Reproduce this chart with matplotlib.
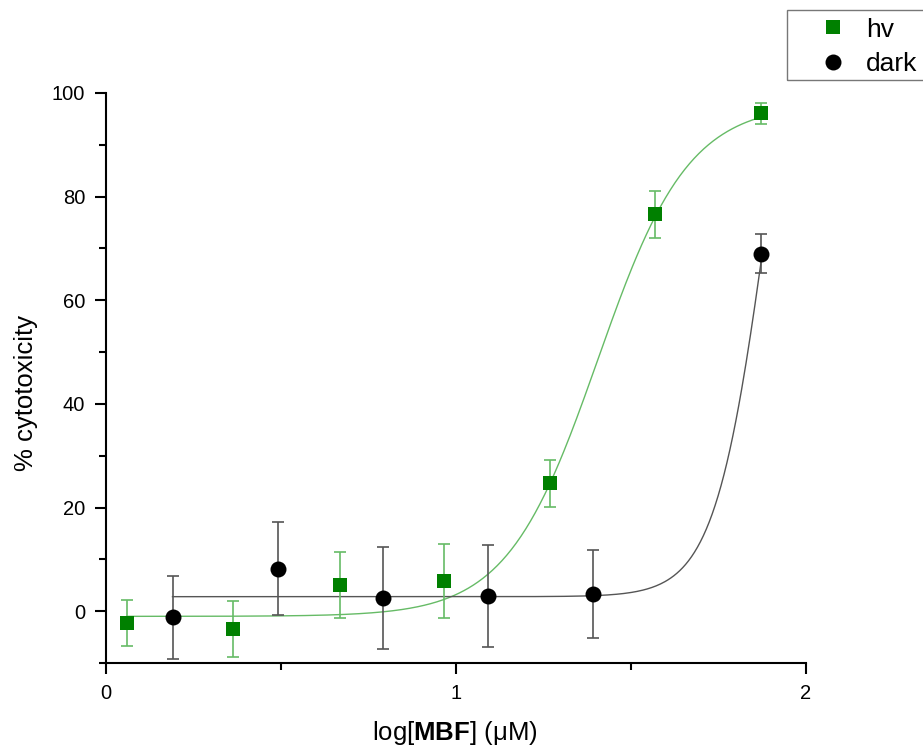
import numpy as np
import matplotlib
matplotlib.use("Agg")
import matplotlib.pyplot as plt
from matplotlib.ticker import MultipleLocator
from matplotlib.patches import Rectangle

plt.rcParams['font.family'] = ['Liberation Sans', 'DejaVu Sans']
plt.rcParams['mathtext.fontset'] = 'custom'
plt.rcParams['mathtext.rm'] = 'Liberation Sans'
plt.rcParams['mathtext.bf'] = 'Liberation Sans:bold'

# Irradiated (hv) series
hv_x = [0.06, 0.363, 0.669, 0.966, 1.269, 1.569, 1.871]
hv_y = [-2.3, -3.5, 5.0, 5.8, 24.7, 76.6, 96.1]
hv_err = [4.4, 5.4, 6.4, 7.1, 4.5, 4.5, 2.0]

# Dark series
dark_x = [0.19, 0.49, 0.79, 1.09, 1.39, 1.871]
dark_y = [-1.2, 8.2, 2.5, 2.9, 3.3, 69.0]
dark_err = [8.0, 9.0, 9.8, 9.8, 8.5, 3.8]

# Boltzmann fit parameters: bottom, top, x0, dx
hv_fit = (-1.0, 98.0, 1.405, 0.13)
dark_fit = (2.8, 150.0, 1.89, 0.075)


def boltzmann(x, a1, a2, x0, dx):
    return a2 + (a1 - a2) / (1.0 + np.exp((x - x0) / dx))


W, H = 923, 749
fig = plt.figure(figsize=(W / 100, H / 100), dpi=100)
ax = fig.add_axes([106 / W, 86 / H, 700 / W, 570 / H])

green = '#008000'
green_light = '#66bb66'
gray = '#555555'

xs = np.linspace(hv_x[0], hv_x[-1], 400)
ax.plot(xs, boltzmann(xs, *hv_fit), color=green_light, lw=1.0, zorder=2)
xd = np.linspace(dark_x[0], dark_x[-1], 400)
ax.plot(xd, boltzmann(xd, *dark_fit), color=gray, lw=1.0, zorder=2)

ax.errorbar(hv_x, hv_y, yerr=hv_err, fmt='none', ecolor=green_light,
            elinewidth=1.2, capsize=4.5, capthick=1.2, zorder=3)
ax.errorbar(dark_x, dark_y, yerr=dark_err, fmt='none', ecolor=gray,
            elinewidth=1.2, capsize=4.5, capthick=1.2, zorder=3)

h1, = ax.plot(hv_x, hv_y, 's', color=green, markersize=10, ls='none',
              markeredgewidth=0, zorder=4, label='hv')
h2, = ax.plot(dark_x, dark_y, 'o', color='black', markersize=11.5, ls='none',
              markeredgewidth=0, zorder=4, label='dark')

ax.set_xlim(0, 2)
ax.set_ylim(-10, 100)
ax.spines['top'].set_visible(False)
ax.spines['right'].set_visible(False)
for s in ('left', 'bottom'):
    ax.spines[s].set_linewidth(1.5)

ax.xaxis.set_major_locator(MultipleLocator(1))
ax.xaxis.set_minor_locator(MultipleLocator(0.5))
ax.yaxis.set_major_locator(MultipleLocator(20))
ax.yaxis.set_minor_locator(MultipleLocator(10))
ax.tick_params(which='major', direction='out', length=8, width=1.5,
               labelsize=14.5)
ax.tick_params(axis='x', which='major', pad=7)
ax.tick_params(axis='y', which='major', pad=7)
ax.tick_params(which='minor', direction='out', length=5, width=1.5)

ax.set_xlabel(r'log[$\mathbf{MBF}$] (μM)', fontsize=18.5)
ax.set_ylabel('% cytotoxicity', fontsize=18.5)
ax.xaxis.set_label_coords(0.4986, -0.098)
ax.yaxis.set_label_coords(-0.097, 0.474)

# Legend box runs off the right edge of the figure
fig.patches.append(Rectangle((787 / W, 1 - 80 / H), 160 / W, 70 / H,
                             transform=fig.transFigure, fill=False,
                             edgecolor='#777777', linewidth=1.0))
fig.legend(handles=[h1, h2], loc='center left',
           bbox_to_anchor=(813 / W, 1 - 47 / H),
           bbox_transform=fig.transFigure,
           fontsize=19, frameon=False, borderpad=0, borderaxespad=0,
           handletextpad=0.5, labelspacing=0.4, handlelength=1.5)

fig.savefig('out.png', dpi=100)
